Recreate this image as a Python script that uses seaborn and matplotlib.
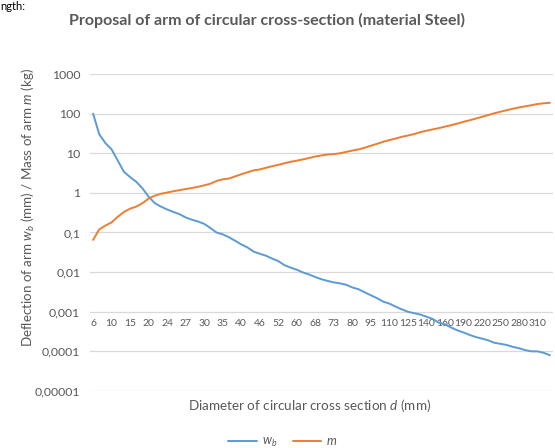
import numpy as np
import pandas as pd
import matplotlib
matplotlib.use("Agg")
import matplotlib.pyplot as plt
from matplotlib.lines import Line2D
from matplotlib.ticker import NullLocator
import seaborn as sns

# Diameter labels shown on the category axis (every third design point)
diameter_labels = ["6", "10", "15", "20", "24", "27", "30", "35", "40", "46", "52", "60",
                   "68", "73", "80", "95", "110", "125", "140", "160", "190", "220", "250",
                   "280", "310"]

# Deflection of the arm w_b (mm) for each design point
deflection_wb = [100, 30, 18, 12.5, 6.5, 3.4, 2.5, 1.9, 1.3, 0.8,
                 0.55, 0.45, 0.38, 0.33, 0.29, 0.24, 0.21, 0.19, 0.165, 0.13,
                 0.1, 0.09, 0.076, 0.062, 0.05, 0.042, 0.033, 0.029, 0.026, 0.022,
                 0.019, 0.015, 0.013, 0.0115, 0.0098, 0.0087, 0.0075, 0.0066, 0.0060, 0.0055,
                 0.0052, 0.0048, 0.0041, 0.0037, 0.0031, 0.0026, 0.0022, 0.0018, 0.0016, 0.00135,
                 0.00115, 0.00100, 0.00092, 0.00085, 0.00075, 0.00066, 0.00053, 0.00048, 0.00040, 0.00034,
                 0.00030, 0.00026, 0.00023, 0.00021, 0.00019, 0.000165, 0.000155, 0.000145, 0.00013, 0.00012,
                 0.000108, 0.0001, 0.0001, 0.000092, 0.00008]

# Mass of the arm m (kg) for each design point
mass_m = [0.065, 0.12, 0.15, 0.18, 0.25, 0.33, 0.4, 0.45, 0.55, 0.72,
          0.85, 0.95, 1.02, 1.1, 1.17, 1.25, 1.33, 1.42, 1.55, 1.7,
          2.0, 2.2, 2.3, 2.6, 2.95, 3.3, 3.7, 3.9, 4.3, 4.7,
          5.1, 5.6, 6.1, 6.5, 7.0, 7.6, 8.3, 8.8, 9.3, 9.5,
          10.0, 10.8, 11.7, 12.5, 13.8, 15.5, 17.3, 19.5, 21.5, 23.5,
          26, 28, 30.5, 34, 37, 40, 43, 47, 51, 56,
          62, 68, 75, 83, 92, 102, 112, 122, 133, 143,
          153, 163, 175, 182, 188]

ytick_values = [1e-5, 1e-4, 1e-3, 1e-2, 1e-1, 1, 10, 100, 1000]
ytick_labels = ["0,00001", "0,0001", "0,001", "0,01", "0,1", "1", "10", "100", "1000"]

sns.set_theme(style="white")
plt.rcParams["font.family"] = ["Lato", "DejaVu Sans"]
plt.rcParams["mathtext.fontset"] = "custom"
plt.rcParams["mathtext.rm"] = "Lato"
plt.rcParams["mathtext.it"] = "Lato:italic"
plt.rcParams["mathtext.bf"] = "Lato:bold"

GREY = "#595959"
BLUE = "#5B9BD5"
ORANGE = "#ED7D31"

n_points = len(mass_m)
label_step = 3
df = pd.DataFrame({"point": np.arange(n_points),
                   "w_b": deflection_wb,
                   "m": mass_m}).melt(id_vars="point", var_name="series", value_name="value")

fig = plt.figure(figsize=(5.55, 4.48), dpi=100)
ax = fig.add_axes([90 / 555, 1 - 391 / 448, 463 / 555, 317 / 448])

sns.lineplot(data=df, x="point", y="value", hue="series", hue_order=["w_b", "m"],
             palette={"w_b": BLUE, "m": ORANGE}, linewidth=1.4, ax=ax, legend=False)

ax.set_yscale("log")
ax.set_ylim(1e-5, 1000)
ax.set_xlim(-0.5, n_points - 0.5)
ax.set_yticks(ytick_values, ytick_labels)
ax.yaxis.set_minor_locator(NullLocator())
ax.set_xticks(np.arange(0, n_points, label_step)[:len(diameter_labels)], diameter_labels)
ax.xaxis.set_minor_locator(NullLocator())
ax.set_xlabel("")
ax.set_ylabel("")

# category axis crosses the value axis at 0,001
ax.spines["bottom"].set_position(("data", 1e-3))
for side in ["top", "right", "left", "bottom"]:
    ax.spines[side].set_visible(False)

ax.yaxis.grid(True, color="#d9d9d9", linewidth=0.9)
ax.xaxis.grid(False)
ax.set_axisbelow(True)
ax.tick_params(axis="both", length=0, colors=GREY)
ax.tick_params(axis="y", pad=7, labelsize=8.8)
ax.tick_params(axis="x", pad=5, labelsize=7.5)

fig.text(0.0, 1 - 1 / 448, "ngth:", fontsize=8, color="black", va="top", ha="left")

fig.text(267 / 555, 1 - 20 / 448, "Proposal of arm of circular cross-section (material Steel)",
         ha="center", va="center", fontsize=11.5, fontweight="bold", color=GREY)
fig.text(28 / 555, 1 - 208 / 448, r"Deflection of arm $w_b$ (mm) / Mass of arm $m$ (kg)",
         rotation=90, ha="center", va="center", fontsize=9.6, color=GREY)
fig.text(310 / 555, 1 - 405 / 448, r"Diameter of circular cross section $d$ (mm)",
         ha="center", va="center", fontsize=9.7, color=GREY)

handles = [Line2D([], [], color=BLUE, lw=1.4), Line2D([], [], color=ORANGE, lw=1.4)]
fig.legend(handles, [r"$w_b$", r"$m$"], loc="center", bbox_to_anchor=(283 / 555, 1 - 442 / 448),
           ncol=2, frameon=False, handlelength=2.3, columnspacing=1.2, handletextpad=0.4,
           fontsize=9, labelcolor=GREY)

fig.savefig("out.png", dpi=100)
